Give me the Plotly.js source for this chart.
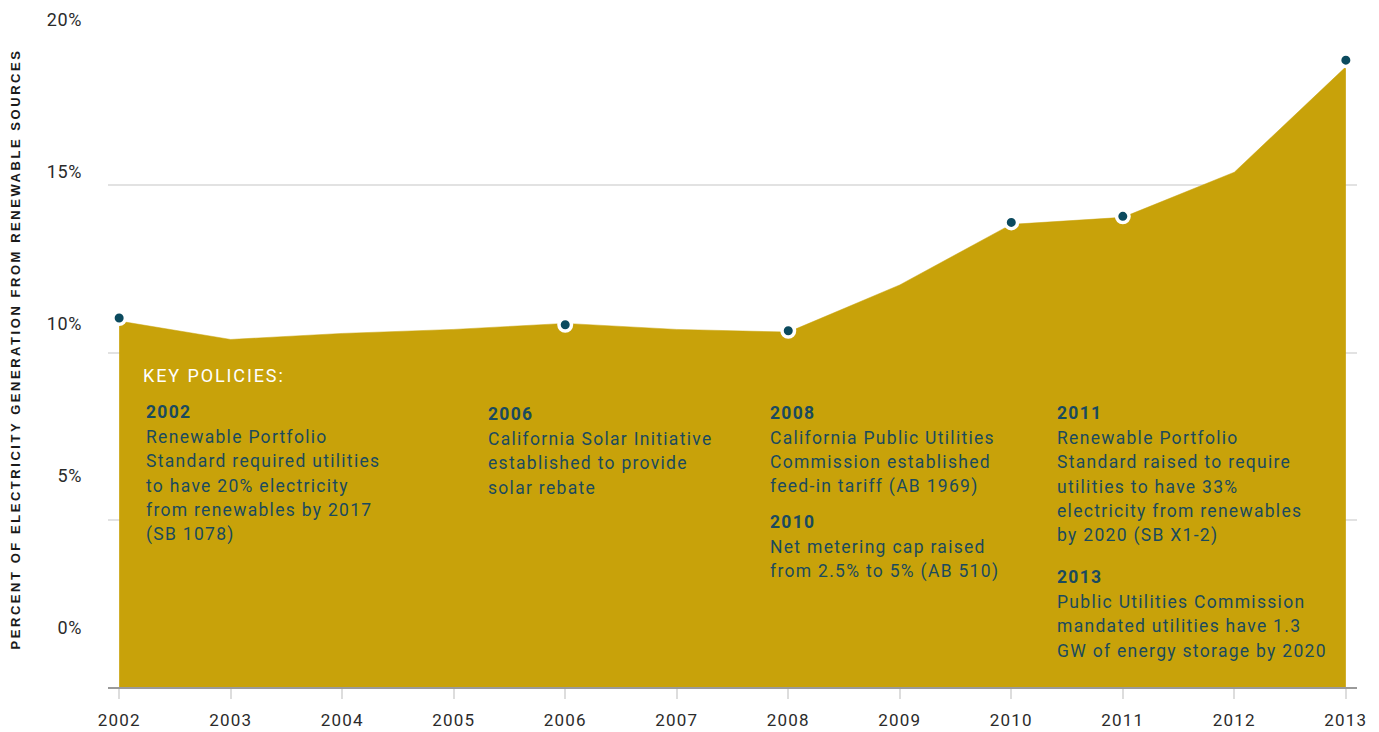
<!DOCTYPE html>
<html><head><meta charset="utf-8">
<script src="https://cdn.plot.ly/plotly-3.0.1.min.js"></script>
<style>
body{margin:0;background:#fff;}
.xtick text{letter-spacing:1.2px;}
.y2tick text{letter-spacing:0.6px;}
</style>
</head><body>
<div id="chart" style="width:1379px;height:732px;"></div>
<script>
// ---- data ----
const years = [2002, 2003, 2004, 2005, 2006, 2007, 2008, 2009, 2010, 2011, 2012, 2013];
const renewableShare = [10.94, 10.39, 10.57, 10.69, 10.87, 10.69, 10.61, 12.02, 13.83, 14.04, 15.39, 18.54];
const policyYears = [2002, 2006, 2008, 2010, 2011, 2013];
const policyMarkerValues = [11.03, 10.83, 10.65, 13.89, 14.07, 18.74];
const yTickValues = [0, 5, 10, 15, 20];
const yTickLabels = ['0%', '5%', '10%', '15%', '20%'];
const xTickLabels = years.map(String);
const yTitle = 'PERCENT OF ELECTRICITY GENERATION FROM RENEWABLE SOURCES';
const keyPoliciesLabel = 'KEY POLICIES:';
const policyYearLabels = ['2002', '2006', '2008', '2010', '2011', '2013'];
const policyTexts = [
  ['Renewable Portfolio', 'Standard required utilities', 'to have 20% electricity', 'from renewables by 2017', '(SB 1078)'],
  ['California Solar Initiative', 'established to provide', 'solar rebate'],
  ['California Public Utilities', 'Commission established', 'feed-in tariff (AB 1969)'],
  ['Net metering cap raised', 'from 2.5% to 5% (AB 510)'],
  ['Renewable Portfolio', 'Standard raised to require', 'utilities to have 33%', 'electricity from renewables', 'by 2020 (SB X1-2)'],
  ['Public Utilities Commission', 'mandated utilities have 1.3', 'GW of energy storage by 2020']
];

// ---- layout geometry ----
const W = 1379, H = 732;
const M = {l: 108, r: 22, t: 18, b: 45};
const plotW = W - M.l - M.r, plotH = H - M.t - M.b;
const px2x = px => (px - M.l) / plotW;
const py2y = py => 1 - (py - M.t) / plotH;

// text block anchors (pixels: left x, first line centre y)
const blockPos = [[144, 412], [486, 414], [768, 413], [768, 522], [1055, 413], [1055, 577]];
const lineStep = 24.2;
const textColor = '#1a4a5e';
const gold = '#c8a20a';

const annotations = [];
annotations.push({
  xref: 'paper', yref: 'paper', x: 0, y: 0.5, xshift: -93, yshift: 3,
  xanchor: 'center', yanchor: 'middle', textangle: -90, showarrow: false,
  text: '<span style="letter-spacing:2.55px">' + yTitle + '</span>',
  font: {family: 'Liberation Sans, Arial, sans-serif', size: 13, color: '#1a1a1a', weight: 'bold'}
});
annotations.push({
  xref: 'paper', yref: 'paper', x: px2x(141), y: py2y(375),
  xanchor: 'left', yanchor: 'middle', showarrow: false,
  text: '<span style="letter-spacing:1.9px">' + keyPoliciesLabel + '</span>',
  font: {family: 'Roboto, sans-serif', size: 18, color: '#ffffff'}
});
policyTexts.forEach((lines, i) => {
  const [bx, by] = blockPos[i];
  const all = ['<b>' + policyYearLabels[i] + '</b>'].concat(lines);
  all.forEach((ln, j) => {
    annotations.push({
      xref: 'paper', yref: 'paper', x: px2x(bx), y: py2y(by + j * lineStep + (j > 0 ? 1 : 0)),
      xanchor: 'left', yanchor: 'middle', showarrow: false,
      text: '<span style="letter-spacing:1.3px">' + ln + '</span>',
      font: {family: 'Roboto, sans-serif', size: 17.5, color: textColor}
    });
  });
});

const traces = [
  {
    x: years, y: renewableShare, type: 'scatter', mode: 'lines',
    fill: 'tozeroy', fillcolor: gold, line: {color: gold, width: 0.5},
    hoverinfo: 'skip', showlegend: false
  },
  {
    x: policyYears, y: policyMarkerValues, type: 'scatter', mode: 'markers',
    marker: {size: 12.5, color: '#0b4a5e', line: {color: '#ffffff', width: 3.5}},
    cliponaxis: false, showlegend: false
  }
];

const layout = {
  width: W, height: H,
  margin: {l: M.l, r: M.r, t: M.t, b: M.b, pad: 0},
  paper_bgcolor: '#ffffff', plot_bgcolor: '#ffffff',
  showlegend: false,
  font: {family: 'Roboto, sans-serif', color: '#2b2b2b'},
  xaxis: {
    range: [2001.9, 2013.1], tickvals: years, ticktext: xTickLabels,
    showgrid: false, zeroline: false,
    showline: true, linecolor: '#9a9a9a', linewidth: 2,
    ticks: 'outside', ticklen: 10, tickwidth: 2, tickcolor: '#dddddd',
    tickfont: {size: 17, color: '#2b2b2b'}, ticklabelstandoff: 7
  },
  yaxis: {
    range: [0, 20], tickvals: yTickValues, showticklabels: false,
    showgrid: true, gridcolor: '#e2e2e2', gridwidth: 2,
    zeroline: false, showline: false, ticks: ''
  },
  yaxis2: {
    overlaying: 'y', side: 'left', range: [-1.958, 20.056],
    tickvals: yTickValues, ticktext: yTickLabels,
    showgrid: false, zeroline: false, showline: false, ticks: '',
    tickfont: {size: 18, color: '#2b2b2b'}, ticklabelstandoff: 25
  },
  annotations: annotations
};
// invisible trace attached to yaxis2 so its tick labels render
traces.push({x: [years[0]], y: [yTickValues[0]], yaxis: 'y2', mode: 'markers',
  marker: {opacity: 0}, hoverinfo: 'skip', showlegend: false, type: 'scatter'});

Plotly.newPlot('chart', traces, layout, {displayModeBar: false, staticPlot: true});
</script>
</body></html>
